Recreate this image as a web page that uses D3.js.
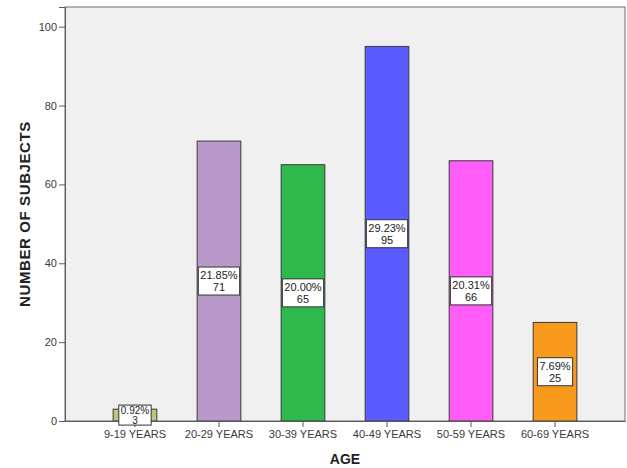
<!DOCTYPE html>
<html>
<head>
<meta charset="utf-8">
<script src="https://cdn.jsdelivr.net/npm/d3@7/dist/d3.min.js"></script>
<style>
  html, body { margin: 0; padding: 0; background: #ffffff; }
  svg { display: block; font-family: "Liberation Sans", Arial, sans-serif; }
</style>
</head>
<body>
<svg id="chart" width="627" height="468"></svg>
<script>
// Age groups, subject counts and their share of the total
const categories = ["9-19 YEARS", "20-29 YEARS", "30-39 YEARS", "40-49 YEARS", "50-59 YEARS", "60-69 YEARS"];
const counts = [3, 71, 65, 95, 66, 25];
const percents = ["0.92%", "21.85%", "20.00%", "29.23%", "20.31%", "7.69%"];
const barColors = ["#c2c27e", "#b899c9", "#2fb84b", "#5a5cff", "#ff5cf8", "#f79a1e"];
const yTicks = [0, 20, 40, 60, 80, 100];

const svg = d3.select("#chart");
const plot = { left: 65, right: 625, top: 7, bottom: 421 };

const x = d3.scaleBand()
  .domain(categories)
  .range([plot.left, plot.right])
  .paddingInner(0.48)
  .paddingOuter(0.573);

const y = d3.scaleLinear()
  .domain([0, 105])
  .range([plot.bottom, plot.top]);

// plot background
svg.append("rect")
  .attr("x", plot.left).attr("y", plot.top)
  .attr("width", plot.right - plot.left).attr("height", plot.bottom - plot.top)
  .attr("fill", "#f0f0f0")
  .attr("stroke", "#6e6e6e").attr("stroke-width", 1);

// bars
svg.append("g").selectAll("rect")
  .data(categories)
  .join("rect")
  .attr("x", d => x(d))
  .attr("y", (d, i) => y(counts[i]))
  .attr("width", x.bandwidth())
  .attr("height", (d, i) => y(0) - y(counts[i]))
  .attr("fill", (d, i) => barColors[i])
  .attr("stroke", "#3a3a3a").attr("stroke-width", 1);

// y axis
const yAxis = svg.append("g")
  .attr("transform", `translate(${plot.left},0)`)
  .call(d3.axisLeft(y).tickValues(yTicks).tickSize(6).tickPadding(2));
yAxis.select(".domain").attr("stroke", "#5a5a5a");
yAxis.selectAll(".tick line").attr("stroke", "#5a5a5a");
yAxis.selectAll(".tick text")
  .attr("fill", "#3a3a3a").attr("font-size", 11)
  .attr("font-family", "Liberation Sans, Arial, sans-serif");

// x axis
const xAxis = svg.append("g")
  .attr("transform", `translate(0,${plot.bottom})`)
  .call(d3.axisBottom(x).tickSizeInner(6).tickSizeOuter(0).tickPadding(3));
xAxis.select(".domain").attr("stroke", "#5a5a5a");
xAxis.selectAll(".tick line").attr("stroke", "#5a5a5a");
xAxis.selectAll(".tick text")
  .attr("fill", "#3a3a3a").attr("font-size", 11)
  .attr("font-family", "Liberation Sans, Arial, sans-serif");

// value labels centred on each bar
const labels = svg.append("g").selectAll("g")
  .data(categories)
  .join("g")
  .attr("transform", (d, i) => `translate(${x(d) + x.bandwidth() / 2},${(y(0) + y(counts[i])) / 2})`);

labels.each(function (d, i) {
  const g = d3.select(this);
  const barH = y(0) - y(counts[i]);
  const small = barH < 28;
  const gap = small ? 10 : 12;
  const fs = small ? 10 : 11;
  const t1 = g.append("text")
    .attr("text-anchor", "middle")
    .attr("y", -gap / 2 + 4)
    .attr("font-size", fs).attr("fill", "#222")
    .text(percents[i]);
  g.append("text")
    .attr("text-anchor", "middle")
    .attr("y", gap / 2 + 4)
    .attr("font-size", fs).attr("fill", "#222")
    .text(counts[i]);
  const w = t1.node().getComputedTextLength() + 4;
  const h = small ? 20 : gap + 16;
  g.insert("rect", "text")
    .attr("x", -w / 2).attr("y", -h / 2)
    .attr("width", w).attr("height", h)
    .attr("fill", "#ffffff")
    .attr("stroke", "#333").attr("stroke-width", 1);
});

// axis titles
svg.append("text")
  .attr("transform", `translate(30,${(plot.top + plot.bottom) / 2}) rotate(-90)`)
  .attr("text-anchor", "middle")
  .attr("font-size", 15).attr("font-weight", "bold").attr("fill", "#222")
  .attr("letter-spacing", 0.6)
  .text("NUMBER OF SUBJECTS");

svg.append("text")
  .attr("x", (plot.left + plot.right) / 2)
  .attr("y", 464)
  .attr("text-anchor", "middle")
  .attr("font-size", 14).attr("font-weight", "bold").attr("fill", "#222")
  .text("AGE");
</script>
</body>
</html>
